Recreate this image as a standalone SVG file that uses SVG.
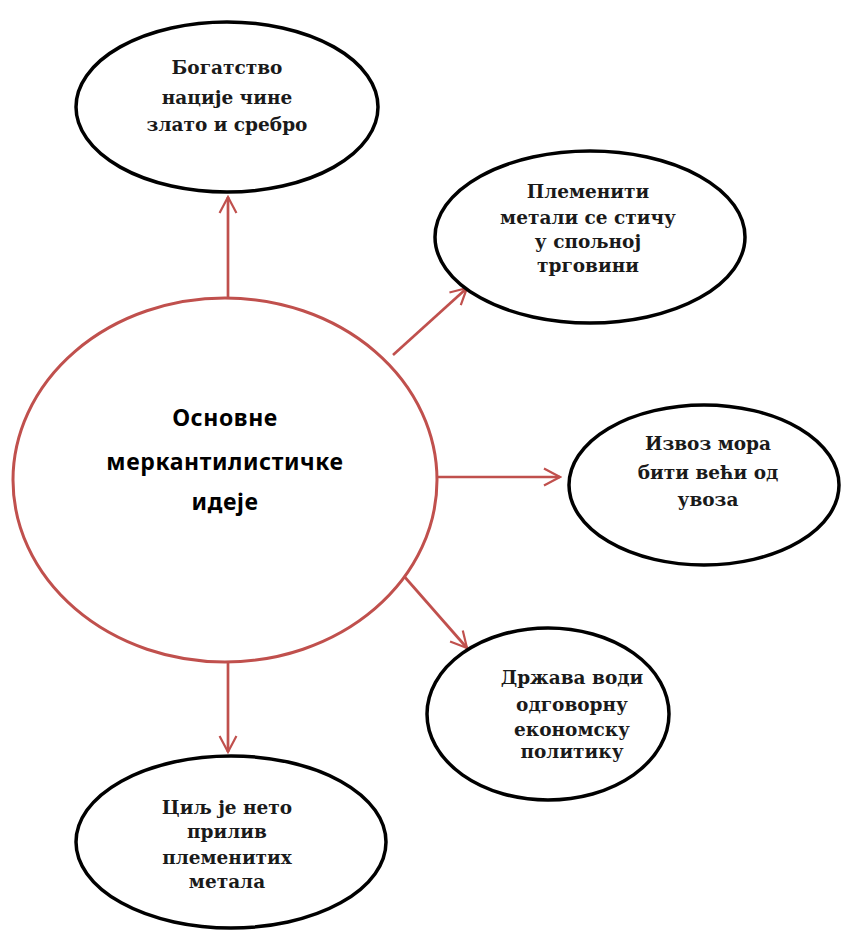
<svg xmlns="http://www.w3.org/2000/svg" width="842" height="931" viewBox="0 0 842 931">
<style>
.idea{fill:#fff;stroke:#000;stroke-width:3.5}
.center{fill:#fff;stroke:#C0504D;stroke-width:3}
.t{font-family:"DejaVu Serif","Liberation Serif",serif;font-weight:bold;font-size:18.5px;fill:#1a1a1a;text-anchor:middle}
.ct{font-family:"Noto Sans","Liberation Sans",sans-serif;font-weight:bold;font-size:23px;letter-spacing:0.6px;fill:#000;text-anchor:middle}
.c{stroke:#C0504D;stroke-width:2.7;fill:none}
</style>
<defs>
<marker id="ah" viewBox="0 0 12 12" refX="11" refY="6" markerWidth="7.5" markerHeight="7.5" orient="auto" markerUnits="strokeWidth">
<path d="M1.5,1 L11,6 L1.5,11" fill="none" stroke="#C0504D" stroke-width="1.3"/>
</marker>
</defs>
<rect width="842" height="931" fill="#fff"/>
<g id="connectors">
<line class="c" x1="228" y1="297" x2="228" y2="197" marker-end="url(#ah)"/>
<line class="c" x1="393" y1="355" x2="467" y2="288" marker-end="url(#ah)"/>
<line class="c" x1="437" y1="477" x2="560" y2="477" marker-end="url(#ah)"/>
<line class="c" x1="403" y1="575" x2="467" y2="648" marker-end="url(#ah)"/>
<line class="c" x1="228" y1="663" x2="228" y2="752" marker-end="url(#ah)"/>
</g>
<g id="center">
<ellipse class="center" cx="225" cy="480" rx="212" ry="182"/>
<text class="ct" x="225" y="426">Основне</text>
<text class="ct" x="225" y="470">меркантилистичке</text>
<text class="ct" x="225" y="510">идеје</text>
</g>
<g id="n1">
<ellipse class="idea" cx="227" cy="107" rx="151" ry="85"/>
<text class="t" x="227" y="74">Богатство</text>
<text class="t" x="227" y="104">нације чине</text>
<text class="t" x="227" y="131">злато и сребро</text>
</g>
<g id="n2">
<ellipse class="idea" cx="590" cy="237" rx="155" ry="86"/>
<text class="t" x="588" y="198">Племенити</text>
<text class="t" x="588" y="224">метали се стичу</text>
<text class="t" x="588" y="248">у спољној</text>
<text class="t" x="588" y="272">трговини</text>
</g>
<g id="n3">
<ellipse class="idea" cx="704" cy="485" rx="135" ry="80"/>
<text class="t" x="708" y="450">Извоз мора</text>
<text class="t" x="708" y="479">бити већи од</text>
<text class="t" x="708" y="506">увоза</text>
</g>
<g id="n4">
<ellipse class="idea" cx="548" cy="714" rx="121" ry="86"/>
<text class="t" x="572" y="684">Држава води</text>
<text class="t" x="572" y="711">одговорну</text>
<text class="t" x="572" y="736">економску</text>
<text class="t" x="572" y="758">политику</text>
</g>
<g id="n5">
<ellipse class="idea" cx="231" cy="842" rx="155" ry="86"/>
<text class="t" x="227" y="814">Циљ је нето</text>
<text class="t" x="227" y="838">прилив</text>
<text class="t" x="227" y="864">племенитих</text>
<text class="t" x="227" y="888">метала</text>
</g>
</svg>
